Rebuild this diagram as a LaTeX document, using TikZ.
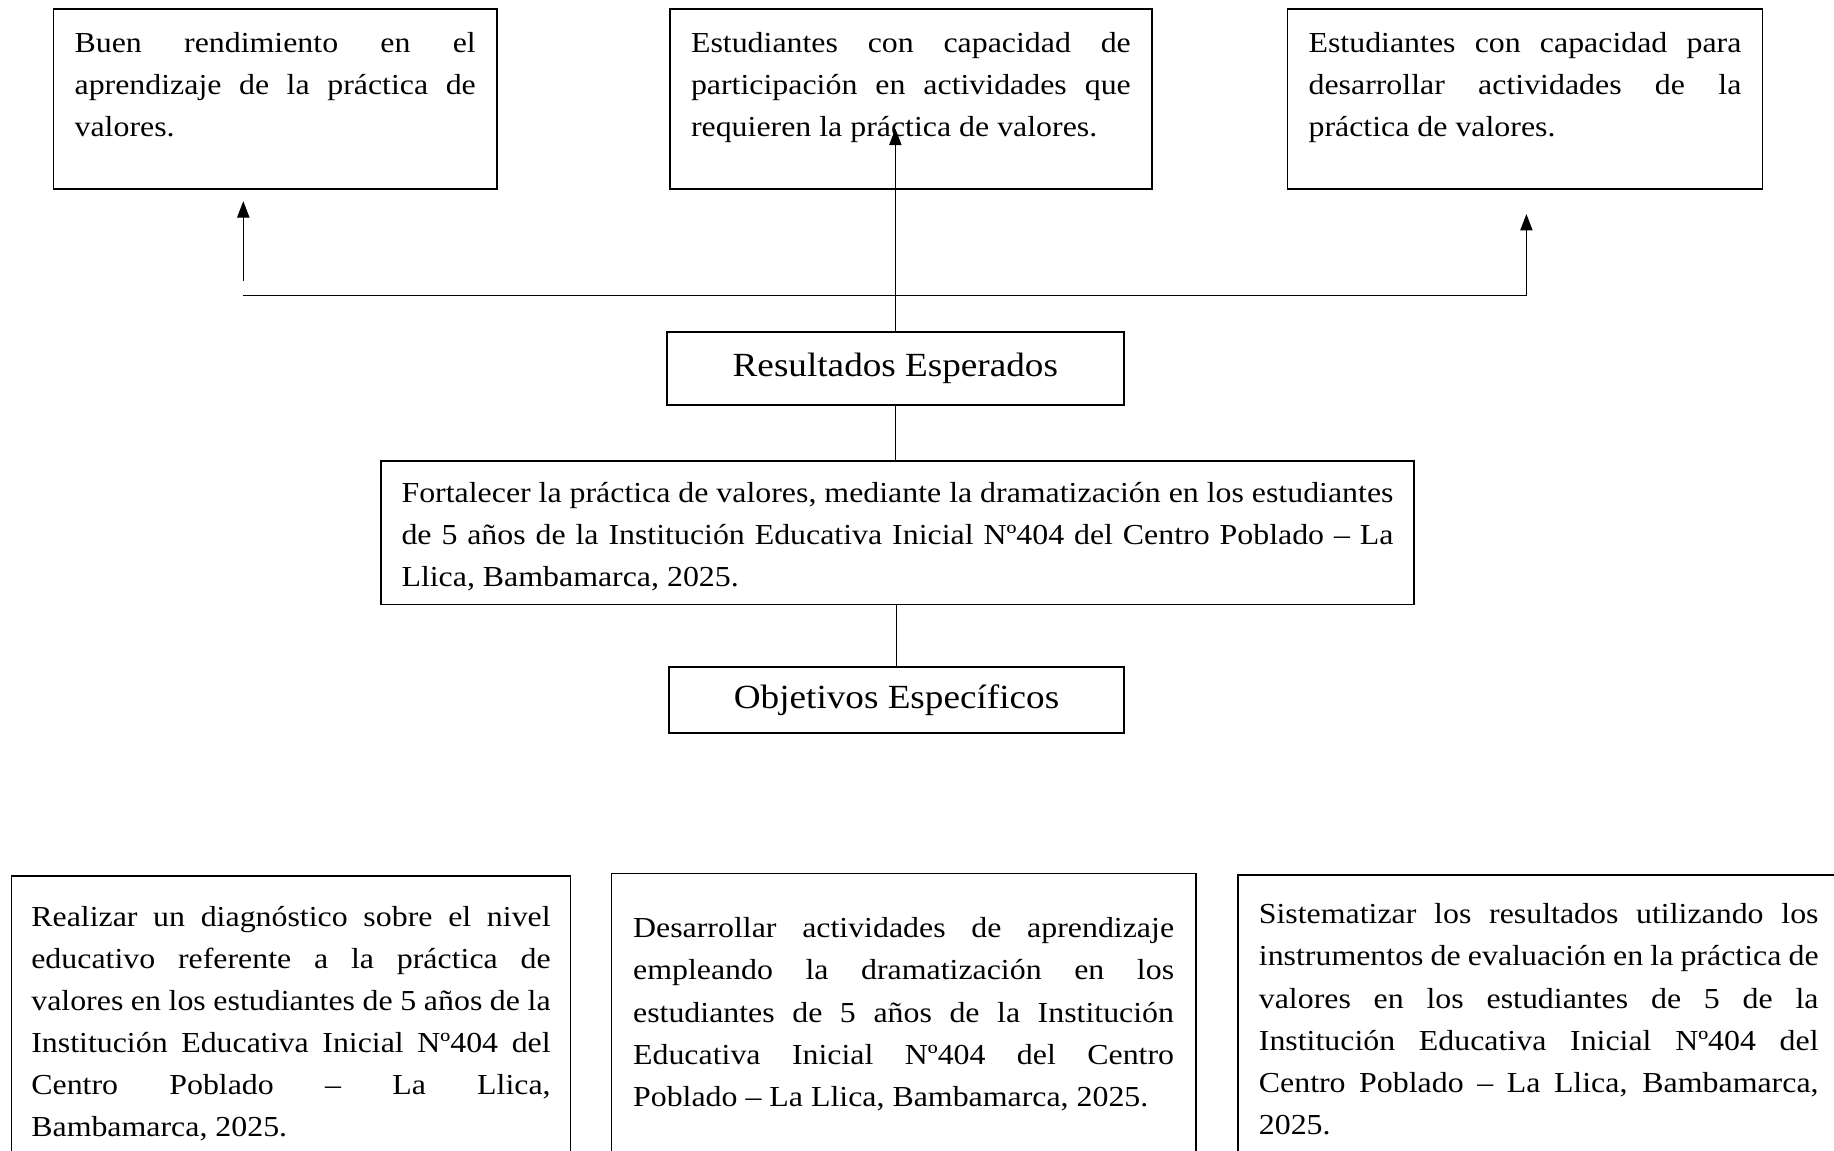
\documentclass[tikz,border=0pt]{standalone}
\usepackage{fontspec}
\setmainfont{Liberation Serif}[FakeStretch=1.1]
\usetikzlibrary{positioning, arrows.meta}
\newcommand{\cuerpo}{\fontsize{14.1pt}{20.5pt}\selectfont}
\newcommand{\titular}{\fontsize{16.45pt}{22pt}\selectfont}
\tolerance=10000
\hyphenpenalty=10000

\begin{document}
\begin{tikzpicture}[
		>={Triangle[width=6pt, length=8pt]},
		caja/.style={draw, rectangle, line width=0.9pt, anchor=north west, inner xsep=0.36cm, inner ysep=0pt, align=justify, font=\cuerpo},
		titulo/.style={draw, rectangle, line width=0.9pt, align=center, font=\titular},
		conector/.style={line width=0.5pt},
	]
	\useasboundingbox (0, 0) rectangle (31.36, -19.68);

	\node[caja, text width=6.86cm, text height=0.74cm, text depth=2.34cm] (resultado_uno) at (0.9, -0.14) {Buen rendimiento en el\linebreak aprendizaje de la práctica de\linebreak valores.};
	\node[caja, text width=7.52cm, text height=0.74cm, text depth=2.34cm] (resultado_dos) at (11.44, -0.14) {Estudiantes con capacidad de\linebreak participación en actividades que\linebreak requieren la práctica de valores.};
	\node[caja, text width=7.4cm, text height=0.74cm, text depth=2.34cm] (resultado_tres) at (22.0, -0.14) {Estudiantes con capacidad para\linebreak desarrollar actividades de la\linebreak práctica de valores.};

	\node[titulo, minimum width=7.82cm, minimum height=1.24cm] (resultados) at (15.31, -6.3) {Resultados Esperados};
	\node[caja, text width=16.96cm, inner xsep=0.35cm, text height=0.72cm, text depth=1.74cm] (objetivo_general) at (6.5, -7.86) {Fortalecer la práctica de valores, mediante la dramatización en los estudiantes\linebreak de 5 años de la Institución Educativa Inicial Nº404 del Centro Poblado – La\linebreak Llica, Bambamarca, 2025.};
	\node[titulo, minimum width=7.78cm, minimum height=1.14cm] (objetivos) at (15.33, -11.97) {Objetivos Específicos};

	\node[caja, text width=8.88cm, inner xsep=0.34cm, text height=0.86cm, text depth=4.4cm] (especifico_uno) at (0.18, -14.96) {Realizar un diagnóstico sobre el nivel\linebreak educativo referente a la práctica de\linebreak valores en los estudiantes de 5 años de la\linebreak Institución Educativa Inicial Nº404 del\linebreak Centro Poblado – La Llica,\linebreak Bambamarca, 2025.};
	\node[caja, text width=9.25cm, inner xsep=0.37cm, text height=1.1cm, text depth=4.3cm] (especifico_dos) at (10.44, -14.92) {Desarrollar actividades de aprendizaje\linebreak empleando la dramatización en los\linebreak estudiantes de 5 años de la Institución\linebreak Educativa Inicial Nº404 del Centro\linebreak Poblado – La Llica, Bambamarca, 2025.};
	\node[caja, text width=9.57cm, text height=0.84cm, text depth=4.4cm] (especifico_tres) at (21.15, -14.94) {Sistematizar los resultados utilizando los\linebreak instrumentos de evaluación en la práctica de\linebreak valores en los estudiantes de 5 de la\linebreak Institución Educativa Inicial Nº404 del\linebreak Centro Poblado – La Llica, Bambamarca,\linebreak 2025.};

	\coordinate (punta_centro) at (15.31, -2.2);
	\coordinate (rama_izq) at (4.16, -4.8);
	\coordinate (punta_izq) at (4.16, -3.44);
	\coordinate (esquina_izq) at (4.16, -5.06);
	\coordinate (esquina_der) at (26.1, -5.06);
	\coordinate (punta_der) at (26.1, -3.66);

	\draw[conector, ->] (resultados.north) -- (punta_centro);
	\draw[conector, ->] (rama_izq) -- (punta_izq);
	\draw[conector, ->] (esquina_izq) -- (esquina_der) -- (punta_der);
	\draw[conector] (resultados.south) -- (objetivo_general.north -| resultados.south);
	\draw[conector] (objetivo_general.south -| objetivos.north) -- (objetivos.north);
\end{tikzpicture}
\end{document}
